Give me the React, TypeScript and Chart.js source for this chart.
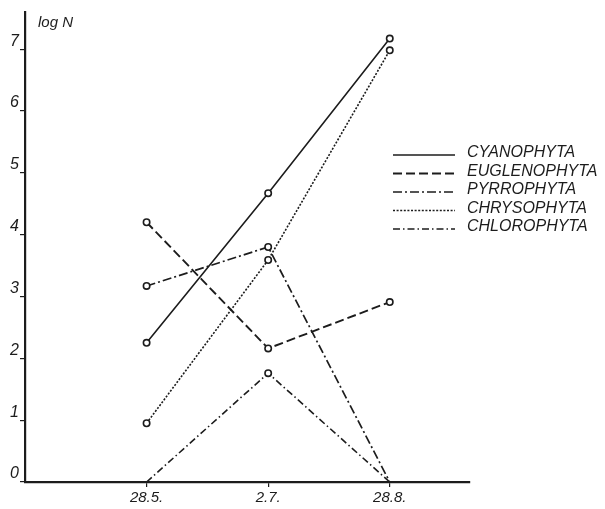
import React, { useEffect, useRef } from "react";
import { Chart, registerables } from "chart.js";

Chart.register(...registerables);

// ---- data ----
const categories = ["28.5.", "2.7.", "28.8."];
const yTickValues = [0, 1, 2, 3, 4, 5, 6, 7];
const seriesNames = ["CYANOPHYTA", "EUGLENOPHYTA", "PYRROPHYTA", "CHRYSOPHYTA", "CHLOROPHYTA"];
const cyanophyta = [2.25, 4.67, 7.17];
const euglenophyta = [4.2, 2.16, 2.91];
const pyrrophyta = [3.17, 3.8, 0];
const chrysophyta = [0.95, 3.59, 6.98];
const chlorophyta = [0, 1.76, 0];

const seriesValues = [cyanophyta, euglenophyta, pyrrophyta, chrysophyta, chlorophyta];
const seriesDashes: number[][] = [[], [9, 4], [9, 3, 2, 3], [2, 1.6], [7, 3, 1.5, 3]];
const seriesWidths = [1.6, 1.9, 1.7, 1.6, 1.6];

const INK = "#1c1c1c";
const FONT = "'Liberation Sans', Arial, sans-serif";

const extrasPlugin = {
  id: "extras",
  afterDraw(chart: any) {
    const ctx = chart.ctx;
    const area = chart.chartArea;
    ctx.save();
    // axis title "log N"
    ctx.fillStyle = INK;
    ctx.font = `italic 15px ${FONT}`;
    ctx.textAlign = "left";
    ctx.textBaseline = "alphabetic";
    ctx.fillText("log N", area.left + 13, 27);

    // legend
    const x0 = 393;
    const x1 = 455;
    const tx = 467;
    const ys = [155, 173.5, 192, 210.5, 229];
    chart.data.datasets.forEach((ds: any, i: number) => {
      const y = ys[i];
      ctx.strokeStyle = ds.borderColor;
      ctx.lineWidth = ds.borderWidth;
      ctx.setLineDash(ds.borderDash || []);
      ctx.beginPath();
      ctx.moveTo(x0, y);
      ctx.lineTo(x1, y);
      ctx.stroke();
      ctx.setLineDash([]);
      ctx.fillStyle = INK;
      ctx.font = `italic 16px ${FONT}`;
      ctx.textBaseline = "middle";
      ctx.fillText(ds.label, tx, y - 2);
    });
    ctx.restore();
  },
};

export default function App() {
  const canvasRef = useRef<HTMLCanvasElement | null>(null);

  useEffect(() => {
    if (!canvasRef.current) return;
    const datasets = seriesNames.map((name, i) => ({
      label: name,
      data: seriesValues[i].map((v, j) => ({ x: j + 1, y: v })),
      borderColor: INK,
      borderWidth: seriesWidths[i],
      borderDash: seriesDashes[i],
      pointRadius: seriesValues[i].map((v) => (v === 0 ? 0 : 3.2)),
      pointBorderWidth: 1.6,
      pointBorderColor: INK,
      pointBackgroundColor: "#ffffff",
      fill: false,
      tension: 0,
    }));

    const chart = new Chart(canvasRef.current, {
      type: "line",
      data: { datasets },
      plugins: [extrasPlugin],
      options: {
        responsive: false,
        animation: false,
        events: [],
        layout: { padding: { top: 12, right: 135, bottom: 0, left: 0 } },
        plugins: {
          legend: { display: false },
          tooltip: { enabled: false },
        },
        scales: {
          x: {
            type: "linear",
            min: 0,
            max: 3.66,
            afterBuildTicks: (scale: any) => {
              scale.ticks = categories.map((_, i) => ({ value: i + 1 }));
            },
            afterFit: (scale: any) => {
              scale.height = 27;
            },
            ticks: {
              color: INK,
              padding: 2,
              maxRotation: 0,
              autoSkip: false,
              font: { family: FONT, size: 15, style: "italic" },
              callback: (v: any) => categories[Math.round(Number(v)) - 1] ?? "",
            },
            grid: {
              drawOnChartArea: false,
              drawTicks: true,
              tickLength: 5,
              color: INK,
              lineWidth: 1.2,
            },
            border: { display: true, color: INK, width: 2.2 },
          },
          y: {
            type: "linear",
            min: 0,
            max: 7.6,
            afterBuildTicks: (scale: any) => {
              scale.ticks = yTickValues.map((v) => ({ value: v }));
            },
            afterFit: (scale: any) => {
              scale.width = 25;
            },
            ticks: {
              color: INK,
              padding: 1,
              labelOffset: -8,
              font: { family: FONT, size: 16, style: "italic" },
              callback: (v: any) => String(v),
            },
            grid: {
              drawOnChartArea: false,
              drawTicks: true,
              tickLength: 5,
              color: INK,
              lineWidth: 1.2,
            },
            border: { display: true, color: INK, width: 2.2 },
          },
        },
      },
    });
    return () => chart.destroy();
  }, []);

  return (
    <div style={{ position: "fixed", left: 0, top: 0, width: 605, height: 509, background: "#ffffff" }}>
      <canvas ref={canvasRef} width={605} height={509} style={{ display: "block" }} />
    </div>
  );
}
